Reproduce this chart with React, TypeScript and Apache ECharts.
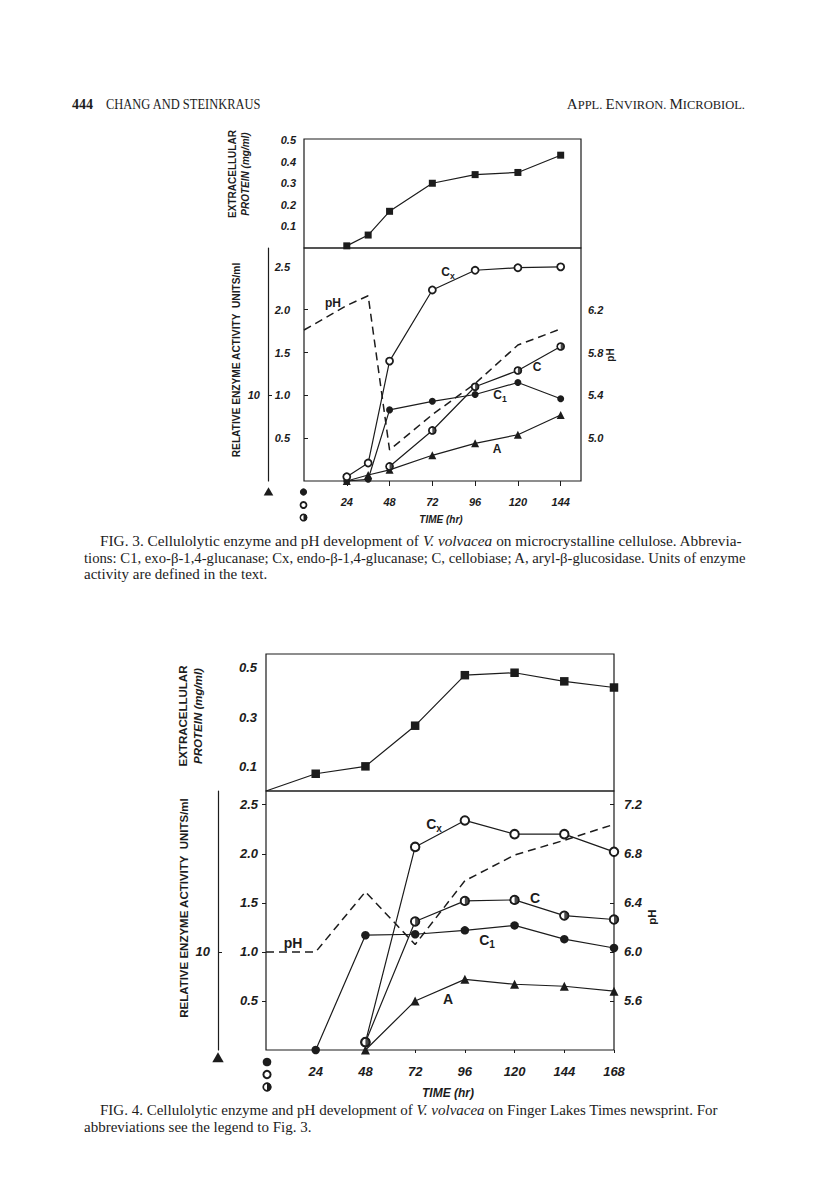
import React, { useEffect, useRef } from 'react';
import * as echarts from 'echarts';

// ---------- FIG. 3 data (microcrystalline cellulose) ----------
const fig3ProteinX = [24, 36, 48, 72, 96, 120, 144];
const fig3Protein = [0.01, 0.06, 0.17, 0.3, 0.34, 0.35, 0.43];
const fig3CxX = [24, 36, 48, 72, 96, 120, 144];
const fig3Cx = [0.05, 0.21, 1.4, 2.23, 2.46, 2.49, 2.5];
const fig3C1X = [24, 36, 48, 72, 96, 120, 144];
const fig3C1 = [0, 0.02, 0.83, 0.93, 1.01, 1.15, 0.96];
const fig3CX = [48, 72, 96, 120, 144];
const fig3C = [0.17, 0.59, 1.1, 1.29, 1.57];
const fig3AX = [24, 36, 48, 72, 96, 120, 144];
const fig3A = [0, 0.7, 1.3, 3.0, 4.4, 5.4, 7.7];
const fig3pHX = [0, 24, 36, 48, 72, 96, 120, 144];
const fig3pH = [6.01, 6.24, 6.33, 4.89, 5.22, 5.51, 5.87, 6.02];

// ---------- FIG. 4 data (newsprint) ----------
const fig4ProteinX = [0, 24, 48, 72, 96, 120, 144, 168];
const fig4Protein = [0, 0.07, 0.1, 0.265, 0.47, 0.48, 0.445, 0.42];
const fig4CxX = [48, 72, 96, 120, 144, 168];
const fig4Cx = [0.08, 2.07, 2.34, 2.2, 2.2, 2.02];
const fig4CX = [48, 72, 96, 120, 144, 168];
const fig4C = [0.08, 1.31, 1.52, 1.53, 1.37, 1.33];
const fig4C1X = [24, 48, 72, 96, 120, 144, 168];
const fig4C1 = [0, 1.17, 1.18, 1.22, 1.27, 1.13, 1.04];
const fig4AX = [48, 72, 96, 120, 144, 168];
const fig4A = [0, 5.0, 7.2, 6.7, 6.5, 6.0];
const fig4pHX = [0, 24, 48, 72, 96, 120, 144, 168];
const fig4pH = [6.0, 6.0, 6.49, 6.06, 6.58, 6.79, 6.91, 7.04];

// ---------- tick labels ----------
const fig3TimeTicks = [24, 48, 72, 96, 120, 144];
const fig4TimeTicks = [24, 48, 72, 96, 120, 144, 168];
const fig3ProteinTicks = [0.1, 0.2, 0.3, 0.4, 0.5];
const fig4ProteinTicks = [0.1, 0.3, 0.5];
const activityTicks = [0.5, 1.0, 1.5, 2.0, 2.5];
const fig3pHTicks = [5.0, 5.4, 5.8, 6.2];
const fig4pHTicks = [5.6, 6.0, 6.4, 6.8, 7.2];
const triangleAxisTicks = [10];

const INK = '#1c1c1c';
const SANS = "'Liberation Sans', Arial, sans-serif";
const SERIF = "'Liberation Serif', 'Times New Roman', serif";
const HALF =
  'path://M10,0A10,10 0 1,1 10,20A10,10 0 1,1 10,0ZM10,2.6A7.4,7.4 0 1,0 10,17.4A7.4,7.4 0 1,0 10,2.6ZM10,0A10,10 0 0,1 10,20Z';

const pts = (xs: number[], ys: number[]) => xs.map((x, i) => [x, ys[i]]);

const tickFont = (size: number) => ({
  fontFamily: SANS,
  fontStyle: 'italic' as const,
  fontWeight: 'bold' as const,
  fontSize: size,
  color: INK,
});

function buildOption() {
  const grids = [
    { left: 304, top: 139, width: 277, height: 109 },
    { left: 304, top: 248, width: 277, height: 233 },
    { left: 266, top: 654, width: 348, height: 137 },
    { left: 266, top: 791, width: 348, height: 259 },
  ].map((g) => ({ ...g, show: true, borderColor: INK, borderWidth: 1.2, backgroundColor: 'transparent' }));

  const hiddenX = (gridIndex: number, max: number) => ({
    type: 'value', gridIndex, min: 0, max, show: false, splitLine: { show: false },
  });

  const xAxis = [
    hiddenX(0, 155.4),
    {
      type: 'value', gridIndex: 1, min: 0, max: 155.4, position: 'bottom',
      axisLine: { show: false },
      axisTick: { show: true, customValues: fig3TimeTicks, length: 3, lineStyle: { color: INK } },
      axisLabel: { customValues: fig3TimeTicks, margin: 15, ...tickFont(11) },
      splitLine: { show: false },
    },
    {
      type: 'value', gridIndex: 1, min: 0, max: 155.4, position: 'top',
      axisLine: { show: false },
      axisTick: { show: true, inside: true, customValues: fig3TimeTicks, length: 5, lineStyle: { color: INK } },
      axisLabel: { show: false },
      splitLine: { show: false },
    },
    hiddenX(2, 168),
    {
      type: 'value', gridIndex: 3, min: 0, max: 168, position: 'bottom',
      axisLine: { show: false },
      axisTick: { show: true, customValues: fig4TimeTicks, length: 3, lineStyle: { color: INK } },
      axisLabel: { customValues: fig4TimeTicks, margin: 15, ...tickFont(13) },
      splitLine: { show: false },
    },
  ];

  const f1 = (v: number) => v.toFixed(1);

  const yAxis = [
    {
      type: 'value', gridIndex: 0, min: 0, max: 0.505,
      axisLine: { show: false }, axisTick: { show: false }, splitLine: { show: false },
      axisLabel: { customValues: fig3ProteinTicks, formatter: f1, margin: 8, ...tickFont(11) },
    },
    {
      type: 'value', gridIndex: 1, min: 0, max: 2.72, position: 'left',
      axisLine: { show: false }, axisTick: { show: false }, splitLine: { show: false },
      axisLabel: { customValues: activityTicks, formatter: f1, margin: 14, ...tickFont(11) },
    },
    {
      type: 'value', gridIndex: 1, min: 4.6, max: 6.776, position: 'right',
      axisLine: { show: false }, splitLine: { show: false },
      axisTick: { show: true, customValues: fig3pHTicks, length: 4, lineStyle: { color: INK } },
      axisLabel: { customValues: fig3pHTicks, formatter: f1, margin: 7, ...tickFont(11) },
    },
    {
      type: 'value', gridIndex: 1, min: 0, max: 27.2, position: 'left', offset: 36,
      axisLine: { show: true, lineStyle: { color: INK, width: 1.2 } }, splitLine: { show: false },
      axisTick: { show: true, inside: true, customValues: triangleAxisTicks, length: 4, lineStyle: { color: INK } },
      axisLabel: { customValues: triangleAxisTicks, margin: 8, ...tickFont(11) },
    },
    {
      type: 'value', gridIndex: 2, min: 0, max: 0.556,
      axisLine: { show: false }, axisTick: { show: false }, splitLine: { show: false },
      axisLabel: { customValues: fig4ProteinTicks, formatter: f1, margin: 9, ...tickFont(13) },
    },
    {
      type: 'value', gridIndex: 3, min: 0, max: 2.64, position: 'left',
      axisLine: { show: false }, splitLine: { show: false },
      axisTick: { show: true, customValues: activityTicks, length: 4, lineStyle: { color: INK } },
      axisLabel: { customValues: activityTicks, formatter: f1, margin: 8, ...tickFont(13) },
    },
    {
      type: 'value', gridIndex: 3, min: 5.2, max: 7.312, position: 'right',
      axisLine: { show: false }, splitLine: { show: false },
      axisTick: { show: true, inside: true, customValues: fig4pHTicks, length: 4, lineStyle: { color: INK } },
      axisLabel: { customValues: fig4pHTicks, formatter: f1, margin: 10, ...tickFont(13) },
    },
    {
      type: 'value', gridIndex: 3, min: 0, max: 26.4, position: 'left', offset: 48,
      axisLine: { show: true, lineStyle: { color: INK, width: 1.2 } }, splitLine: { show: false },
      axisTick: { show: true, inside: true, customValues: triangleAxisTicks, length: 4, lineStyle: { color: INK } },
      axisLabel: { customValues: triangleAxisTicks, margin: 8, ...tickFont(13) },
    },
  ];

  const line = (xi: number, yi: number, data: number[][], symbol: any, size: number, itemStyle: any, extra: any = {}) => ({
    type: 'line', xAxisIndex: xi, yAxisIndex: yi, data, symbol, symbolSize: size,
    showSymbol: true, silent: true, lineStyle: { color: INK, width: 1.2 }, itemStyle, ...extra,
  });
  const filled = { color: INK };
  const open = (w: number) => ({ color: '#ffffff', borderColor: INK, borderWidth: w });
  const halfOverlay = (xi: number, yi: number, data: number[][], size: number) => ({
    type: 'scatter', xAxisIndex: xi, yAxisIndex: yi, data, symbol: HALF, symbolSize: size,
    silent: true, z: 5, itemStyle: { color: INK, borderWidth: 0 },
  });
  const phLine = (xi: number, yi: number, data: number[][]) => ({
    type: 'line', xAxisIndex: xi, yAxisIndex: yi, data, symbol: 'none', silent: true,
    lineStyle: { color: INK, width: 1.5, type: [8, 5] },
  });

  const series = [
    // Fig 3
    line(0, 0, pts(fig3ProteinX, fig3Protein), 'rect', 7, filled),
    phLine(1, 2, pts(fig3pHX, fig3pH)),
    line(1, 3, pts(fig3AX, fig3A), 'triangle', 8, filled),
    line(1, 1, pts(fig3CX, fig3C), 'circle', 7, open(1.6)),
    halfOverlay(1, 1, pts(fig3CX, fig3C), 7.6),
    line(1, 1, pts(fig3C1X, fig3C1), 'circle', 7, filled),
    line(1, 1, pts(fig3CxX, fig3Cx), 'circle', 7, open(1.8)),
    // Fig 4
    line(3, 4, pts(fig4ProteinX, fig4Protein), (v: number[]) => (v[0] === 0 ? 'none' : 'rect'), 8.5, filled),
    phLine(4, 6, pts(fig4pHX, fig4pH)),
    line(4, 7, pts(fig4AX, fig4A), 'triangle', 9, filled),
    line(4, 5, pts(fig4CX, fig4C), 'circle', 8.5, open(1.8)),
    halfOverlay(4, 5, pts(fig4CX, fig4C), 9.2),
    line(4, 5, pts(fig4C1X, fig4C1), 'circle', 8.5, filled),
    line(4, 5, pts(fig4CxX, fig4Cx), 'circle', 8.5, open(2)),
  ];

  // ---------- graphic texts ----------
  const text = (x: number, y: number, t: string, style: any = {}, rot = 0, extra: any = {}) => ({
    type: 'text', x, y, rotation: rot, silent: true, ...extra,
    style: { text: t, fill: INK, fontFamily: SANS, align: 'center', verticalAlign: 'middle', ...style },
  });
  const sub = (main: string, s: string, size: number) =>
    text(0, 0, `{m|${main}}{s|${s}}`, {
      rich: {
        m: { fontFamily: SANS, fontWeight: 'bold', fontSize: size, fill: INK },
        s: { fontFamily: SANS, fontWeight: 'bold', fontSize: size * 0.72, fill: INK, padding: [Math.round(size * 0.6), 0, 0, 0] },
      },
    });
  const at = (el: any, x: number, y: number) => ({ ...el, x, y });
  const lab = (x: number, y: number, t: string, size: number) =>
    text(x, y, t, { fontWeight: 'bold', fontSize: size });

  const rotTitle = (x: number, y: number, t: string, size: number, style: any = {}) =>
    text(x, y, t, { fontSize: size, fontWeight: 'bold', ...style }, Math.PI / 2);

  const caption = (x: number, y: number, parts: [string, boolean][], size: number, scaleX = 1) => ({
    type: 'text', x, y, silent: true, scaleX,
    style: {
      text: parts.map(([t, it]) => `{${it ? 'i' : 'n'}|${t}}`).join(''),
      align: 'left', verticalAlign: 'middle',
      rich: {
        n: { fontFamily: SERIF, fontSize: size, fill: INK },
        i: { fontFamily: SERIF, fontSize: size, fontStyle: 'italic', fill: INK },
      },
    },
  });

  const triangle = (cx: number, cy: number, s: number) => ({
    type: 'polygon', silent: true,
    shape: { points: [[cx, cy - s * 0.6], [cx - s * 0.6, cy + s * 0.45], [cx + s * 0.6, cy + s * 0.45]] },
    style: { fill: INK },
  });
  const dot = (cx: number, cy: number, r: number) => ({ type: 'circle', silent: true, shape: { cx, cy, r }, style: { fill: INK } });
  const ring = (cx: number, cy: number, r: number, w: number) => ({
    type: 'circle', silent: true, shape: { cx, cy, r }, style: { fill: '#fff', stroke: INK, lineWidth: w },
  });
  const half = (cx: number, cy: number, r: number) => ({
    type: 'sector', silent: true, shape: { cx, cy, r0: 0, r, startAngle: -Math.PI / 2, endAngle: Math.PI / 2, clockwise: true },
    style: { fill: INK },
  });

  const graphic = [
    // header
    text(72, 104, '444', { fontFamily: SERIF, fontWeight: 'bold', fontSize: 14, align: 'left' }),
    text(106, 104, 'CHANG AND STEINKRAUS', { fontFamily: SERIF, fontSize: 14.5, align: 'left' }, 0, { scaleX: 0.86 }),
    {
      type: 'text', x: 745, y: 104, silent: true,
      style: {
        text: '{b|A}{s|PPL. }{b|E}{s|NVIRON. }{b|M}{s|ICROBIOL.}',
        align: 'right', verticalAlign: 'middle',
        rich: {
          b: { fontFamily: SERIF, fontSize: 15, fill: INK },
          s: { fontFamily: SERIF, fontSize: 12.5, fill: INK, padding: [2, 0, 0, 0] },
        },
      },
    },

    // Fig 3 axis titles
    rotTitle(232, 174, 'EXTRACELLULAR', 10),
    rotTitle(245, 174, 'PROTEIN (mg/ml)', 10, { fontStyle: 'italic' }),
    rotTitle(236, 360, 'RELATIVE ENZYME ACTIVITY  UNITS/ml', 10.2),
    rotTitle(610, 355, 'pH', 10),
    text(441, 519, 'TIME (hr)', { fontStyle: 'italic', fontWeight: 'bold', fontSize: 10 }),
    // Fig 3 series labels
    at(sub('C', 'x', 12), 448, 272),
    at(sub('C', '1', 12), 500, 395),
    lab(537, 367, 'C', 12),
    lab(497, 449, 'A', 12),
    text(333, 303, 'pH', { fontWeight: 'bold', fontSize: 12 }),
    // Fig 3 marker key
    triangle(268.5, 492, 8),
    dot(303.5, 492, 3.6),
    ring(303.5, 505, 3, 1.8),
    ring(303.5, 517.5, 3.2, 1.5),
    half(303.5, 517.5, 3.6),

    // Fig 3 caption
    caption(100, 541, [['FIG. 3. Cellulolytic enzyme and pH development of ', false], ['V. volvacea', true], [' on microcrystalline cellulose. Abbrevia-', false]], 15, 1.02),
    caption(84, 558, [['tions: C1, exo-β-1,4-glucanase; Cx, endo-β-1,4-glucanase; C, cellobiase; A, aryl-β-glucosidase. Units of enzyme', false]], 15, 0.98),
    caption(84, 574, [['activity are defined in the text.', false]], 15),

    // Fig 4 axis titles
    rotTitle(183, 716, 'EXTRACELLULAR', 11.5),
    rotTitle(198, 716, 'PROTEIN (mg/ml)', 11.5, { fontStyle: 'italic' }),
    rotTitle(184, 908, 'RELATIVE ENZYME ACTIVITY  UNITS/ml', 11.5),
    rotTitle(652, 917, 'pH', 11.5),
    text(448, 1093, 'TIME (hr)', { fontStyle: 'italic', fontWeight: 'bold', fontSize: 12 }),
    // Fig 4 series labels
    at(sub('C', 'x', 14), 434, 824),
    at(sub('C', '1', 14), 487, 940),
    lab(535, 898, 'C', 14),
    lab(448, 999, 'A', 14),
    text(293, 943, 'pH', { fontWeight: 'bold', fontSize: 14 }),
    // Fig 4 marker key
    triangle(218, 1058, 9.5),
    dot(267, 1062, 4.3),
    ring(267, 1074.5, 3.6, 2),
    ring(267, 1087, 3.8, 1.7),
    half(267, 1087, 4.3),

    // Fig 4 caption
    caption(100, 1110, [['FIG. 4. Cellulolytic enzyme and pH development of ', false], ['V. volvacea', true], [' on Finger Lakes Times newsprint. For', false]], 15, 1.0),
    caption(84, 1127, [['abbreviations see the legend to Fig. 3.', false]], 15),
  ];

  return {
    animation: false,
    backgroundColor: '#ffffff',
    grid: grids,
    xAxis,
    yAxis,
    series,
    graphic,
  };
}

export default function App() {
  const ref = useRef<HTMLDivElement>(null);
  useEffect(() => {
    if (!ref.current) return;
    const chart = echarts.init(ref.current, null, { renderer: 'svg' });
    chart.setOption(buildOption() as any);
    return () => chart.dispose();
  }, []);
  return (
    <div
      ref={ref}
      style={{ position: 'absolute', left: 0, top: 0, width: 816, height: 1203, background: '#ffffff' }}
    />
  );
}
